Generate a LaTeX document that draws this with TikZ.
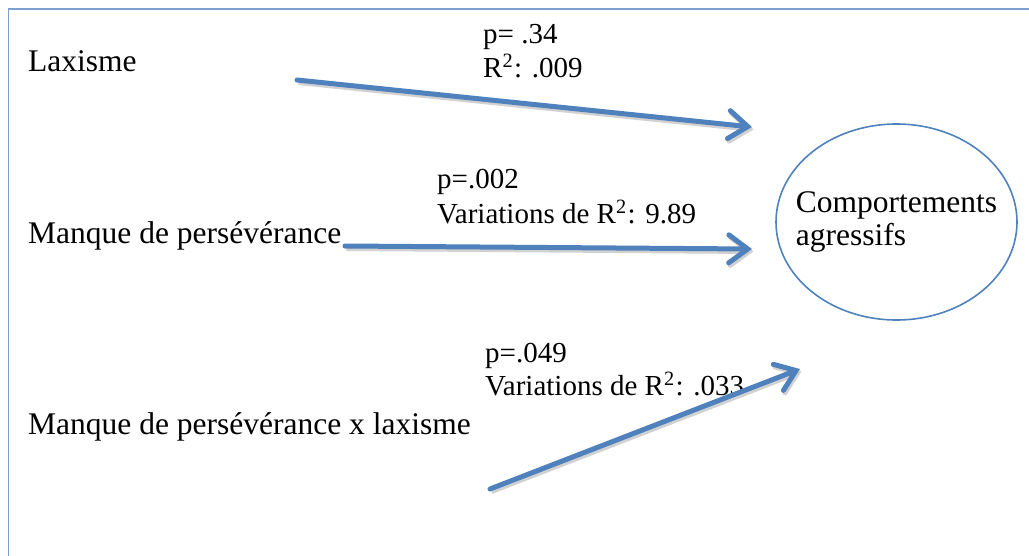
\documentclass[tikz,border=0pt]{standalone}
\usepackage{fontspec}
\setmainfont{Liberation Serif}
\usetikzlibrary{arrows.meta,shapes.geometric}
\definecolor{arrowblue}{RGB}{79,129,189}
\definecolor{framecol}{RGB}{125,160,210}
\tikzset{
  maintext/.style={anchor=base west,inner sep=0pt,font=\fontsize{31.5}{33}\selectfont},
  annot/.style={anchor=base west,inner sep=0pt,font=\fontsize{29}{33}\selectfont},
  linkarrow/.style={draw=arrowblue,line width=5pt,line cap=round,
    -{Straight Barb[length=19pt,width=28pt,line cap=round]},
    preaction={draw=black!18,line width=5pt,transform canvas={shift={(1.5pt,-2.5pt)}}}},
  outcome/.style={ellipse,draw=arrowblue,line width=1.6pt,minimum width=241pt,minimum height=196pt,
    inner xsep=-18pt,inner ysep=0pt,align=left,font=\fontsize{31.5}{33}\selectfont}
}
\begin{document}
\begin{tikzpicture}[x=1pt,y=-1pt]
\useasboundingbox (0,0) rectangle (1029,555);
% frame
\draw[framecol,line width=1.5pt] (8.5,560) -- (8.5,9) -- (1035,9);
% source texts
\node[maintext] (lax) at (28,71) {Laxisme};
\node[maintext] (manq) at (28,243) {Manque de persévérance};
\node[maintext] (inter) at (28,434) {Manque de persévérance x laxisme};
% outcome
\node[outcome] (comp) at (896.5,222) {Comportements\\agressifs};
% annotations
\node[annot] (l1a) at (483,43) {p= .34};
\node[annot] (l1b) at (483,77) {R\textsuperscript{2}\kern1pt: .009};
\node[annot] (l2a) at (437,188) {p=.002};
\node[annot] (l2b) at (437,223) {Variations de R\textsuperscript{2}\kern1pt: 9.89};
\node[annot] (l3a) at (485,362) {p=.049};
\node[annot] (l3b) at (485,395) {Variations de R\textsuperscript{2}\kern1pt: .033};
% arrow end points
\coordinate (s1) at (297,80);
\coordinate (e1) at (752,127);
\coordinate (s2) at (345,246);
\coordinate (e2) at (752,249);
\coordinate (s3) at (490,489);
\coordinate (e3) at (800,369);
\draw[linkarrow] (s1) -- (e1);
\draw[linkarrow] (s2) -- (e2);
\draw[linkarrow] (s3) -- (e3);
\end{tikzpicture}
\end{document}
